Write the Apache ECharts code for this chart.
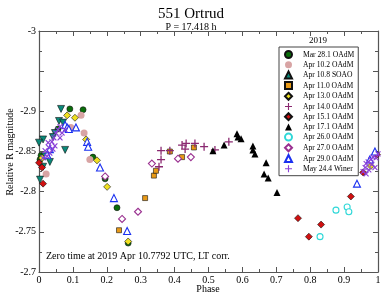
<!DOCTYPE html>
<html><head><meta charset="utf-8">
<script src="https://cdn.jsdelivr.net/npm/echarts@6/dist/echarts.min.js"></script>
<style>html,body{margin:0;padding:0;background:#fff}#c{width:382px;height:294px}</style>
</head><body><div id="c"></div>
<script>
const xTicks = [0,0.1,0.2,0.3,0.4,0.5,0.6,0.7,0.8,0.9,1];
const yTicks = [-3,-2.9,-2.85,-2.8,-2.75,-2.7];
const seriesNames = ['Mar 28.1 OAdM','Apr 10.2 OAdM','Apr 10.8 SOAO','Apr 11.0 OAdM','Apr 13.0 OAdM','Apr 14.0 OAdM','Apr 15.1 OAdM','Apr 17.1 OAdM','Apr 26.0 OAdM','Apr 27.0 OAdM','Apr 29.0 OAdM','May 24.4 Winer'];

const mar28 = [[0.003,-2.840],[0.006,-2.845],[0.056,-2.878],[0.091,-2.903],[0.130,-2.902],[0.159,-2.843],[0.195,-2.816],[0.230,-2.780],[0.263,-2.736]];
const apr10a = [[0.021,-2.822],[0.094,-2.880],[0.124,-2.895],[0.133,-2.873],[0.150,-2.840]];
const apr10b = [[0.065,-2.903],[0.059,-2.888],[0.071,-2.886],[0.047,-2.873],[0.041,-2.868],[0.012,-2.865],[0.000,-2.861],[0.077,-2.852],[0.018,-2.844],[0.032,-2.837],[0.012,-2.831],[0.003,-2.815]];
const apr11 = [[0.236,-2.752],[0.313,-2.792],[0.339,-2.820],[0.345,-2.826],[0.386,-2.850],[0.422,-2.843],[0.457,-2.855]];
const apr13 = [[0.009,-2.842],[0.083,-2.895],[0.106,-2.892],[0.139,-2.865],[0.171,-2.839],[0.201,-2.806],[0.263,-2.738],[0.979,-2.832]];
const apr14 = [[0.360,-2.851],[0.360,-2.840],[0.354,-2.831],[0.386,-2.851],[0.422,-2.858],[0.434,-2.860],[0.431,-2.853],[0.460,-2.860],[0.487,-2.856],[0.519,-2.852],[0.560,-2.862]];
const apr15 = [[0.000,-2.836],[0.009,-2.830],[0.012,-2.810],[0.764,-2.767],[0.796,-2.744],[0.832,-2.759],[0.920,-2.794],[0.956,-2.824],[0.997,-2.846]];
const apr17 = [[0.513,-2.851],[0.546,-2.858],[0.584,-2.872],[0.587,-2.868],[0.596,-2.866],[0.631,-2.857],[0.631,-2.852],[0.637,-2.847],[0.670,-2.836],[0.664,-2.822],[0.676,-2.817],[0.702,-2.799]];
const apr26 = [[0.829,-2.744],[0.876,-2.777],[0.909,-2.781],[0.914,-2.775]];
const apr27 = [[0.195,-2.819],[0.245,-2.766],[0.292,-2.775],[0.333,-2.835],[0.410,-2.841],[0.448,-2.843]];
const apr29 = [[0.032,-2.853],[0.024,-2.846],[0.077,-2.883],[0.083,-2.880],[0.088,-2.878],[0.109,-2.880],[0.142,-2.862],[0.145,-2.856],[0.180,-2.830],[0.221,-2.792],[0.260,-2.751],[0.938,-2.810],[0.976,-2.840],[0.991,-2.850]];
const may24 = [[0.012,-2.842],[0.018,-2.851],[0.024,-2.844],[0.027,-2.861],[0.032,-2.848],[0.038,-2.862],[0.041,-2.853],[0.047,-2.857],[0.050,-2.873],[0.056,-2.877],[0.062,-2.881],[0.068,-2.873],[0.077,-2.877],[0.062,-2.867],[0.044,-2.867],[0.029,-2.855],
  [0.956,-2.825],[0.962,-2.830],[0.965,-2.835],[0.971,-2.837],[0.973,-2.827],[0.979,-2.840],[0.982,-2.834],[0.985,-2.843],[0.991,-2.830],[0.994,-2.842],[1.000,-2.847],[0.965,-2.822]];

const plus = 'path://M0.42,0H0.58V0.42H1V0.58H0.58V1H0.42V0.58H0V0.42H0.42Z';
const F = 'Liberation Serif';
const styles = [
  {data:mar28, symbol:'circle', size:6, color:'#0a6e0a', border:'#111', bw:0.6},
  {data:apr10a, symbol:'circle', size:7, color:'#d8a4a4', border:'#d8a4a4', bw:0},
  {data:apr10b, symbol:'triangle', size:7, rot:180, color:'#0a8a7a', border:'#111', bw:0.6},
  {data:apr11, symbol:'rect', size:5, color:'#e89a18', border:'#111', bw:0.6},
  {data:apr13, symbol:'diamond', size:7, color:'#f0e020', border:'#111', bw:0.6},
  {data:apr14, symbol:plus, size:8, color:'#8a2870', border:'#8a2870', bw:0},
  {data:apr15, symbol:'diamond', size:7, color:'#d01010', border:'#111', bw:0.6},
  {data:apr17, symbol:'triangle', size:7, color:'#000', border:'#000', bw:0},
  {data:apr26, symbol:'circle', size:6, color:'#fff', border:'#30d8d8', bw:1.1},
  {data:apr27, symbol:'diamond', size:7, color:'#fff', border:'#9a3090', bw:1.1},
  {data:apr29, symbol:'triangle', size:7, color:'#fff', border:'#1a30f0', bw:1.1},
  {data:may24, symbol:plus, size:7, rot:45, color:'#8a40d8', border:'#8a40d8', bw:0}
];

const series = styles.map((s,i)=>({
  name: seriesNames[i], type:'scatter', data:s.data, symbol:s.symbol, symbolSize:s.size,
  symbolRotate: s.rot||0, clip:false,
  itemStyle:{color:s.color, borderColor:s.border, borderWidth:s.bw, opacity:1},
  emphasis:{disabled:true}
}));

const axisCommon = {
  min:0, max:1, interval:0.1,
  axisLine:{show:true, onZero:false, lineStyle:{color:'#555', width:1.2}},
  axisTick:{show:true, inside:true, length:5, lineStyle:{color:'#555'}},
  minorTick:{show:true, splitNumber:2, length:3, lineStyle:{color:'#555'}},
  splitLine:{show:false}
};
const yCommon = {
  inverse:true, min:-3, max:-2.7, interval:0.05,
  axisLine:{show:true, onZero:false, lineStyle:{color:'#555', width:1.2}},
  axisTick:{show:true, inside:true, length:5, lineStyle:{color:'#555'}},
  minorTick:{show:true, splitNumber:2, length:3, lineStyle:{color:'#555'}},
  splitLine:{show:false}
};

const chart = echarts.init(document.getElementById('c'), null, {renderer:'canvas'});
chart.setOption({
  animation:false,
  backgroundColor:'#fff',
  title:[
    {text:'551 Ortrud', left:'center', top:2, textStyle:{fontFamily:F, fontWeight:'normal', fontSize:15, color:'#000'}},
    {text:'P = 17.418 h', left:'center', top:17, textStyle:{fontFamily:F, fontWeight:'normal', fontSize:10, color:'#000'}}
  ],
  grid:{left:39, right:4, top:31, bottom:22, containLabel:false, outerBoundsMode:'none'},
  xAxis:[
    Object.assign({}, axisCommon, {type:'value', position:'bottom',
      axisLabel:{fontFamily:F, fontSize:10, color:'#000', margin:3,
        formatter:v=>{const t=xTicks.find(x=>Math.abs(x-v)<1e-6); return t===undefined?'':String(t);}}}),
    Object.assign({}, axisCommon, {type:'value', position:'top', axisLabel:{show:false}})
  ],
  yAxis:[
    Object.assign({}, yCommon, {type:'value', position:'left',
      axisLabel:{fontFamily:F, fontSize:10, color:'#000', margin:3,
        formatter:v=>{const t=yTicks.find(y=>Math.abs(y-v)<1e-6); return t===undefined?'':String(t);}}}),
    Object.assign({}, yCommon, {type:'value', position:'right', axisLabel:{show:false}})
  ],
  legend:{
    data:seriesNames, orient:'vertical', left:279, top:47, itemWidth:7, itemHeight:7, itemGap:1.7,
    padding:[3,4,3,5], borderColor:'#444', borderWidth:1, backgroundColor:'#fff',
    textStyle:{fontFamily:F, fontSize:7.6, color:'#000', padding:[0,0,0,6]},
    selectedMode:false
  },
  graphic:[
    {type:'text', left:309, top:36, style:{text:'2019', font:'9px "Liberation Serif"', fill:'#000'}},
    {type:'text', left:46, top:251, style:{text:'Zero time at 2019 Apr 10.7792 UTC, LT corr.', font:'10px "Liberation Serif"', fill:'#000'}},
    {type:'text', x:208, y:289, style:{text:'Phase', font:'10px "Liberation Serif"', fill:'#000', align:'center', verticalAlign:'middle'}},
    {type:'text', x:10, y:152, rotation:Math.PI/2, style:{text:'Relative R magnitude', font:'10px "Liberation Serif"', fill:'#000', align:'center', verticalAlign:'middle'}}
  ],
  series:series
});
</script></body></html>
